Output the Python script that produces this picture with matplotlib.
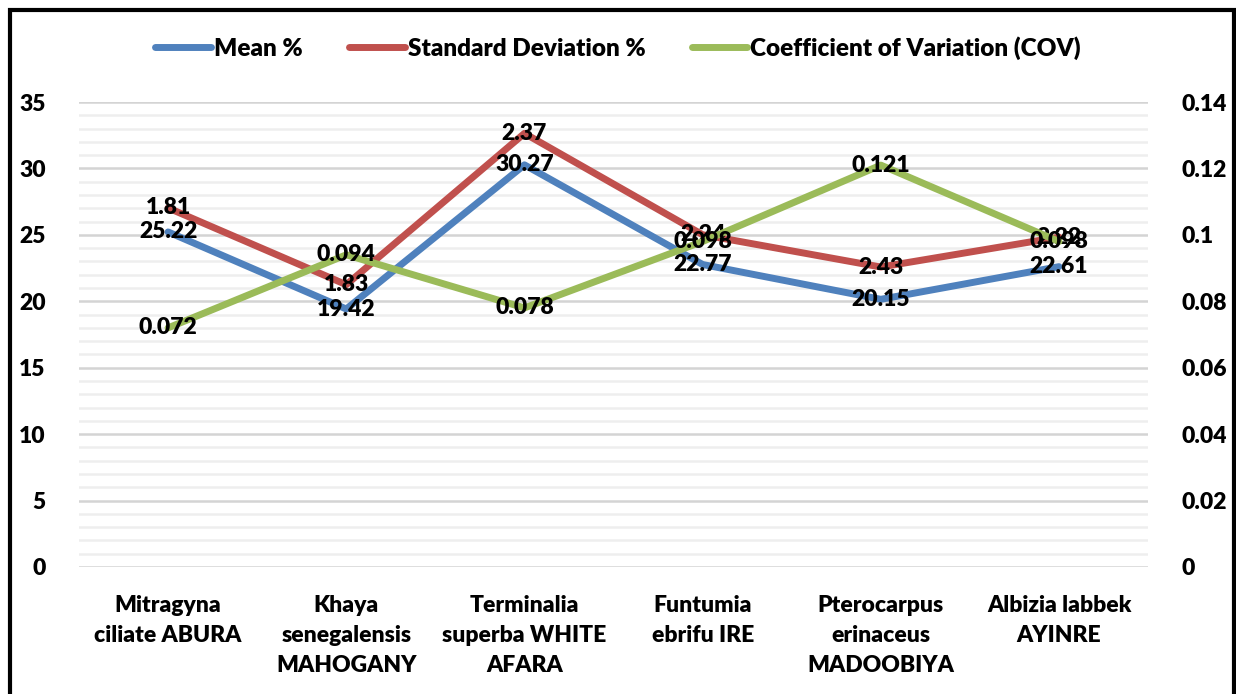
import numpy as np
import matplotlib.pyplot as plt
from matplotlib.patches import Rectangle
from matplotlib.ticker import FuncFormatter, MultipleLocator

plt.rcParams['font.family'] = ['Lato', 'DejaVu Sans']
W = "heavy"
plt.rcParams['font.weight'] = W

species = [
    "Mitragyna\nciliate ABURA",
    "Khaya\nsenegalensis\nMAHOGANY",
    "Terminalia\nsuperba WHITE\nAFARA",
    "Funtumia\nebrifu IRE",
    "Pterocarpus\nerinaceus\nMADOOBIYA",
    "Albizia labbek\nAYINRE",
]
mean_pct = [25.22, 19.42, 30.27, 22.77, 20.15, 22.61]
std_pct = [1.81, 1.83, 2.37, 2.24, 2.43, 2.22]
cov = [0.072, 0.094, 0.078, 0.098, 0.121, 0.098]

BLUE = "#4F81BD"
RED = "#C0504D"
GREEN = "#9BBB59"
FS = 16.5

fig = plt.figure(figsize=(12.36, 6.94), dpi=100)
ax = fig.add_axes([0.0639, 0.183, 0.865, 0.670])
ax2 = ax.twinx()

x = np.arange(len(species))
# stacked line: std sits on top of the mean
stacked = np.array(mean_pct) + np.array(std_pct)

ax.plot(x, mean_pct, color=BLUE, lw=5, solid_capstyle="round", label="Mean %", zorder=3)
ax.plot(x, stacked, color=RED, lw=5, solid_capstyle="round", label="Standard Deviation %", zorder=3)
ax2.plot(x, cov, color=GREEN, lw=5, solid_capstyle="round", label="Coefficient of Variation (COV)", zorder=3)

for xi, v in zip(x, mean_pct):
    ax.text(xi, v, f"{v:.2f}", ha="center", va="center", fontsize=FS, fontweight=W, zorder=5)
for xi, v, s in zip(x, stacked, std_pct):
    ax.text(xi, v, f"{s:.2f}", ha="center", va="center", fontsize=FS, fontweight=W, zorder=5)
for xi, v in zip(x, cov):
    ax2.text(xi, v, f"{v:g}", ha="center", va="center", fontsize=FS, fontweight=W, zorder=5)

ax.set_xlim(-0.5, len(species) - 0.5)
ax.set_ylim(0, 35)
ax2.set_ylim(0, 0.14)
ax.yaxis.set_major_locator(MultipleLocator(5))
ax.yaxis.set_minor_locator(MultipleLocator(1))
ax2.yaxis.set_major_locator(MultipleLocator(0.02))
ax2.yaxis.set_major_formatter(FuncFormatter(lambda v, p: f"{v:g}"))

ax.grid(which="major", axis="y", color="#D4D4D4", lw=1.8, zorder=0)
ax.grid(which="minor", axis="y", color="#EEEEEE", lw=1.8, zorder=0)
ax.set_axisbelow(True)

ax.set_xticks(x)
ax.set_xticklabels(species, fontsize=FS, fontweight=W, linespacing=1.55)
ax.tick_params(axis="x", length=0, pad=20)
ax.tick_params(axis="y", which="both", length=0, labelsize=FS, pad=24)
ax2.tick_params(axis="y", length=0, labelsize=FS, pad=24)
for t in ax.get_yticklabels() + ax2.get_yticklabels():
    t.set_fontweight(W)

for a in (ax, ax2):
    for sp in a.spines.values():
        sp.set_visible(False)

h1, l1 = ax.get_legend_handles_labels()
h2, l2 = ax2.get_legend_handles_labels()
fig.legend(h1 + h2, l1 + l2, loc="center", bbox_to_anchor=(0.5, 0.931), ncol=3,
           frameon=False, prop={"weight": W, "size": 17.5},
           handlelength=2.3, handletextpad=0.12, columnspacing=1.9)

# outer chart frame
fig.patches.append(Rectangle((10 / 1236, -0.05), 1224 / 1236, 1 - 10 / 694 + 0.05,
                             transform=fig.transFigure, fill=False, ec="black", lw=3))

fig.savefig("out.png", dpi=100)
